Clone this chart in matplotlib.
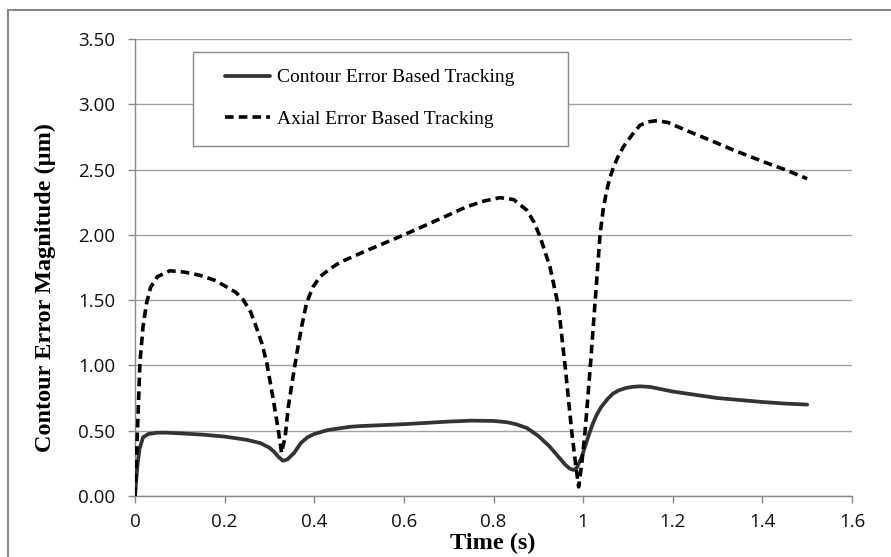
# Contour error vs time, Excel style line chart
import numpy as np
import matplotlib
matplotlib.use("Agg")
import matplotlib.pyplot as plt
from matplotlib.patches import Rectangle

# Contour error based tracking (solid)
t_contour = [0, 0.005, 0.01, 0.018, 0.03, 0.05, 0.07, 0.1, 0.15, 0.2, 0.25, 0.28,
             0.3, 0.31, 0.32, 0.33, 0.34, 0.355, 0.37, 0.385, 0.4, 0.43, 0.45, 0.48,
             0.5, 0.6, 0.7, 0.75, 0.8, 0.83, 0.85, 0.875, 0.9, 0.925, 0.945, 0.96,
             0.97, 0.978, 0.985, 0.997, 1.01, 1.02, 1.03, 1.04, 1.055, 1.067, 1.08,
             1.095, 1.11, 1.127, 1.15, 1.2, 1.25, 1.3, 1.35, 1.4, 1.45, 1.5]
v_contour = [0, 0.22, 0.36, 0.45, 0.475, 0.485, 0.485, 0.48, 0.47, 0.455, 0.43, 0.405,
             0.37, 0.34, 0.3, 0.27, 0.28, 0.33, 0.405, 0.45, 0.475, 0.505, 0.515, 0.53,
             0.535, 0.55, 0.57, 0.577, 0.575, 0.565, 0.55, 0.52, 0.46, 0.38, 0.3, 0.24,
             0.21, 0.2, 0.21, 0.3, 0.44, 0.54, 0.62, 0.68, 0.745, 0.785, 0.81,
             0.827, 0.836, 0.84, 0.835, 0.8, 0.775, 0.75, 0.735, 0.72, 0.708, 0.70]

# Axial error based tracking (dashed)
t_axial = [0, 0.005, 0.011, 0.018, 0.026, 0.035, 0.05, 0.078, 0.11, 0.145, 0.18,
           0.205, 0.225, 0.242, 0.258, 0.27, 0.283, 0.294, 0.309, 0.32, 0.327, 0.335,
           0.342, 0.352, 0.361, 0.372, 0.383, 0.397, 0.413, 0.435, 0.458, 0.517, 0.59,
           0.666, 0.74, 0.78, 0.815, 0.845, 0.874, 0.89, 0.904, 0.926, 0.945, 0.96,
           0.975, 0.983, 0.99, 0.997, 1.004, 1.016, 1.027, 1.038, 1.045, 1.052, 1.06,
           1.068, 1.078, 1.09, 1.11, 1.127, 1.145, 1.165, 1.19, 1.23, 1.28, 1.335,
           1.41, 1.45, 1.5]
v_axial = [0, 0.45, 1.02, 1.3, 1.48, 1.6, 1.68, 1.725, 1.715, 1.69, 1.65,
           1.60, 1.56, 1.50, 1.41, 1.30, 1.17, 1.02, 0.73, 0.5, 0.33, 0.45,
           0.68, 0.9, 1.09, 1.3, 1.48, 1.6, 1.68, 1.74, 1.79, 1.88, 1.985,
           2.10, 2.215, 2.26, 2.285, 2.27, 2.19, 2.1, 1.985, 1.755, 1.45, 0.99,
           0.48, 0.25, 0.07, 0.25, 0.48, 0.99, 1.5, 2.01, 2.2, 2.33, 2.44,
           2.52, 2.6, 2.675, 2.77, 2.84, 2.865, 2.875, 2.86, 2.80, 2.73, 2.65,
           2.55, 2.5, 2.43]

labels = ["Contour Error Based Tracking", "Axial Error Based Tracking"]
x_ticks = [0, 0.2, 0.4, 0.6, 0.8, 1.0, 1.2, 1.4, 1.6]
x_ticklabels = ["0", "0.2", "0.4", "0.6", "0.8", "1", "1.2", "1.4", "1.6"]
y_ticks = [0, 0.5, 1.0, 1.5, 2.0, 2.5, 3.0, 3.5]

W, H = 891, 557
fig = plt.figure(figsize=(W / 100, H / 100), dpi=100)
ax = fig.add_axes([135 / W, 1 - 496 / H, (852 - 135) / W, (496 - 39) / H])

grid_c = "#a0a0a0"
ax.plot(t_contour, v_contour, color="#333333", lw=2.7, label=labels[0],
        solid_capstyle="round", zorder=3)
ax.plot(t_axial, v_axial, color="black", lw=2.6, linestyle=(0, (2.4, 1.4)),
        label=labels[1], zorder=3)

ax.set_xlim(0, 1.6)
ax.set_ylim(0, 3.5)
ax.set_xticks(x_ticks)
ax.set_xticklabels(x_ticklabels)
ax.set_yticks(y_ticks)
ax.set_yticklabels(["%.2f" % v for v in y_ticks])
ax.yaxis.grid(True, color=grid_c, lw=1)
ax.set_axisbelow(True)

for s in ["top", "right"]:
    ax.spines[s].set_visible(False)
for s in ["left", "bottom"]:
    ax.spines[s].set_color("#888888")
    ax.spines[s].set_linewidth(1)

ax.tick_params(axis="both", direction="out", length=5, width=1, color="#888888")
ax.tick_params(axis="x", pad=7)
ax.tick_params(axis="y", pad=9)
for lab in ax.get_xticklabels() + ax.get_yticklabels():
    lab.set_fontfamily("Open Sans")
    lab.set_fontsize(13.5)
    lab.set_color("#111111")

# legend box drawn by hand
ax.add_patch(Rectangle(((193 - 135) / 717, (496 - 146) / 457), (568 - 193) / 717,
                       (146 - 52) / 457, transform=ax.transAxes, facecolor="white",
                       edgecolor="#888888", lw=1, zorder=4))
leg = ax.legend(loc="center left", bbox_to_anchor=((225 - 135) / 717, (496 - 98.5) / 457),
                frameon=False, borderpad=0, borderaxespad=0, handlelength=2.3,
                handletextpad=0.35, labelspacing=1.25,
                prop={"family": "Liberation Serif", "size": 14})
leg.set_zorder(5)

fig.text(45 / W, 1 - 288 / H, "Contour Error Magnitude (\u00b5m)", rotation=90,
         ha="center", va="center", family="Liberation Serif", weight="bold", size=17.5)
fig.text(493 / W, 1 - 543 / H, "Time (s)", ha="center", va="center",
         family="Liberation Serif", weight="bold", size=17.5)

# outer chart border
fig.patches.append(Rectangle((8 / W, -0.05), 1.1, 1 - 10 / H + 0.05,
                             transform=fig.transFigure, fill=False,
                             edgecolor="#888888", lw=1.5))

fig.savefig("out.png", dpi=100)
